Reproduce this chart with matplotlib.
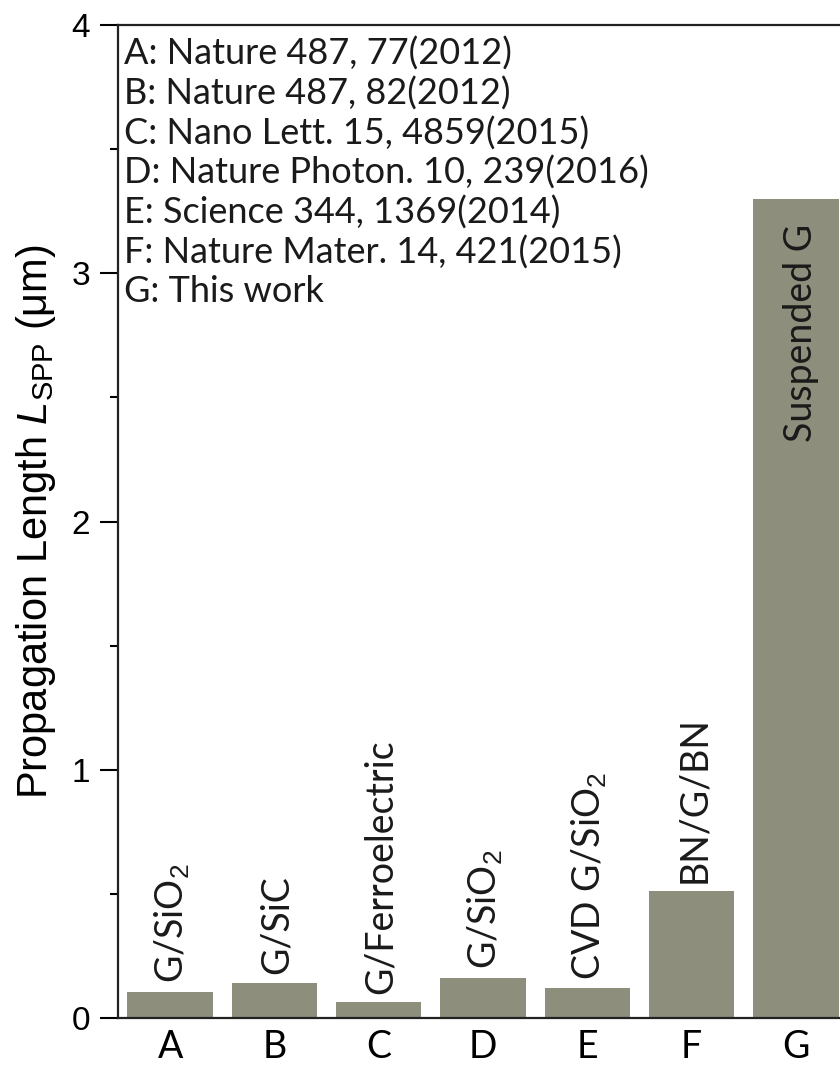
import numpy as np
import matplotlib
matplotlib.use("Agg")
from matplotlib import pyplot as plt
from matplotlib.ticker import MultipleLocator

# data
samples = ["A", "B", "C", "D", "E", "F", "G"]
lengths = [0.106, 0.142, 0.063, 0.162, 0.120, 0.51, 3.30]
substrates = ["G/SiO$_2$", "G/SiC", "G/Ferroelectric", "G/SiO$_2$",
              "CVD G/SiO$_2$", "BN/G/BN", "Suspended G"]
refs = [
    "A: Nature 487, 77(2012)",
    "B: Nature 487, 82(2012)",
    "C: Nano Lett. 15, 4859(2015)",
    "D: Nature Photon. 10, 239(2016)",
    "E: Science 344, 1369(2014)",
    "F: Nature Mater. 14, 421(2015)",
    "G: This work",
]

plt.rcParams['font.family'] = ['Lato', 'DejaVu Sans']
plt.rcParams['mathtext.fontset'] = 'custom'
plt.rcParams['mathtext.rm'] = 'Liberation Sans'
plt.rcParams['mathtext.it'] = 'Liberation Sans:italic'

bar_color = '#8e8e7c'
txt_color = '#1a1a1a'

fig = plt.figure(figsize=(8.4, 10.66), dpi=100)
# axes runs past the right edge like the cropped original
ax = fig.add_axes([0.1405, 0.045, 0.869, 0.9315])

x = np.arange(len(samples))
ax.bar(x, lengths, width=0.82, color=bar_color, zorder=2)

# rotated substrate labels
for i, (v, s) in enumerate(zip(lengths, substrates)):
    if i == len(samples) - 1:
        ax.text(x[i] + 0.05, v - 0.1, s, rotation=90, ha='center', va='top',
                fontsize=27, color=txt_color)
    else:
        ax.text(x[i] + 0.02, v + 0.035, s, rotation=90, ha='center', va='bottom',
                fontsize=27, color=txt_color)

ax.text(0.008, 0.988, "\n".join(refs), transform=ax.transAxes, ha='left', va='top',
        fontsize=26, linespacing=1.2, color=txt_color)

ax.set_xlim(-0.5, 6.5)
ax.set_ylim(0, 4)
ax.set_xticks(x)
ax.set_xticklabels(samples, fontsize=27)
ax.yaxis.set_major_locator(MultipleLocator(1))
ax.yaxis.set_minor_locator(MultipleLocator(0.5))
ax.tick_params(axis='x', length=0, pad=8)
ax.tick_params(axis='y', which='major', direction='out', length=13, width=1.5, pad=7,
               labelsize=24, labelfontfamily='Liberation Sans')
ax.tick_params(axis='y', which='minor', direction='out', length=6, width=1.5)

ax.set_ylabel("Propagation Length $L_{\\rm SPP}$ (\u03bcm)", family='Liberation Sans',
              fontsize=30, labelpad=10)

for sp in ax.spines.values():
    sp.set_linewidth(1.6)
    sp.set_color('#222222')

fig.savefig("out.png", dpi=100)
